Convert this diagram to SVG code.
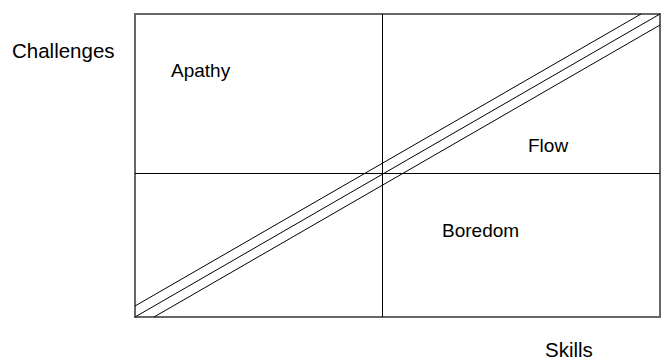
<svg xmlns="http://www.w3.org/2000/svg" width="664" height="361" viewBox="0 0 664 361">
<style>
.lbl{font-family:"Liberation Sans",Arial,sans-serif;font-size:19px;fill:#000}
.big{font-size:20.5px}
.ln{stroke:#000;stroke-width:1;fill:none}
</style>
<rect width="664" height="361" fill="#fff"/>
<g id="connectors">
<rect id="frame" x="135" y="14" width="525" height="303" fill="none" stroke="#666" stroke-width="2"/>
<line class="ln" x1="382.5" y1="14" x2="382.5" y2="317"/>
<line class="ln" x1="135" y1="173.5" x2="660" y2="173.5"/>
<line class="ln" x1="135" y1="306" x2="641" y2="14"/>
<line class="ln" x1="135" y1="317" x2="660" y2="14"/>
<line class="ln" x1="154" y1="317" x2="660" y2="25"/>
</g>
<g id="challenges"><text class="lbl big" x="12" y="58">Challenges</text></g>
<g id="apathy"><text class="lbl" x="171" y="77">Apathy</text></g>
<g id="flow"><text class="lbl" x="528" y="152">Flow</text></g>
<g id="boredom"><text class="lbl" x="442" y="237">Boredom</text></g>
<g id="skills"><text class="lbl big" x="545" y="357">Skills</text></g>
</svg>
